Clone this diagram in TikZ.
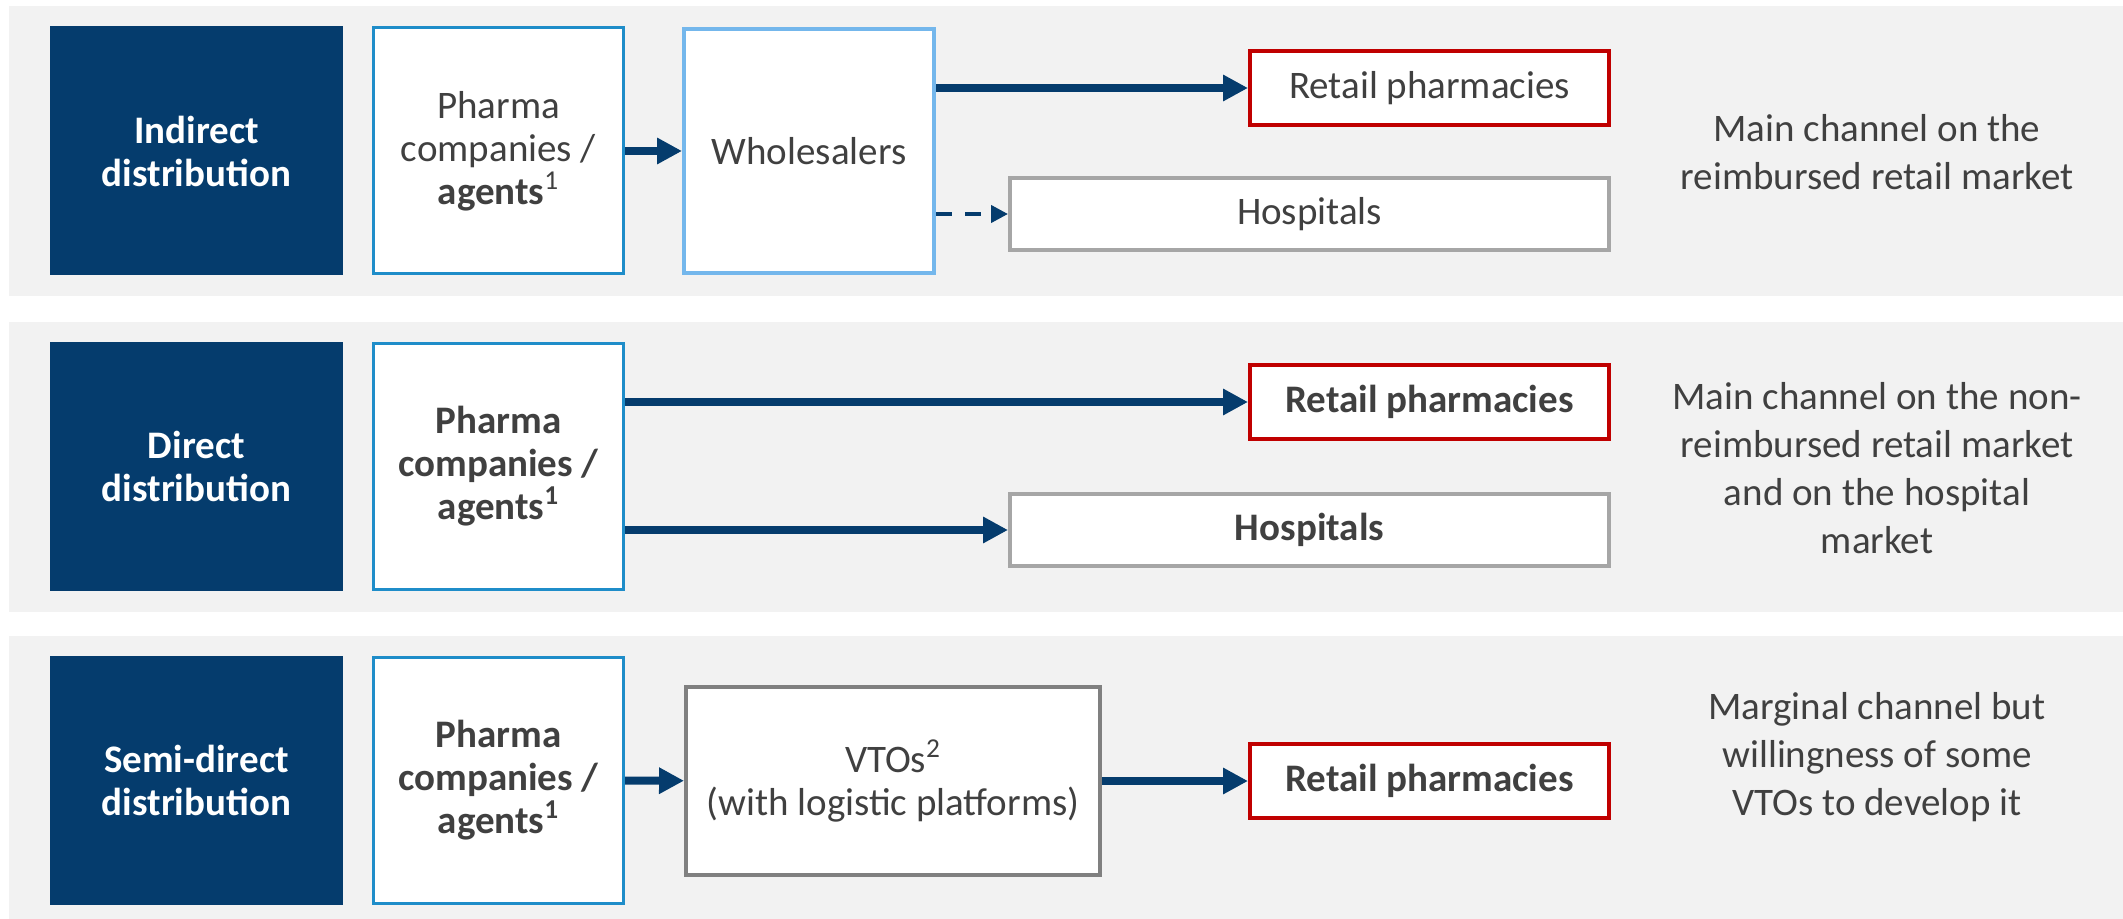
\documentclass[tikz,border=0pt]{standalone}
\usepackage{fontspec}
\setmainfont{Carlito}
\usetikzlibrary{arrows.meta,positioning}
\definecolor{navy}{HTML}{053C6D}
\definecolor{bandgray}{HTML}{F2F2F2}
\definecolor{txtgray}{HTML}{404040}
\definecolor{srcblue}{HTML}{1F8DC9}
\definecolor{whlblue}{HTML}{74B7EC}
\definecolor{retred}{HTML}{C00000}
\definecolor{hosgray}{HTML}{A6A6A6}
\definecolor{vtogray}{HTML}{808080}

\begin{document}
\begin{tikzpicture}[
x=0.5pt, y=-0.5pt,
font=\fontsize{19.5}{21.5}\selectfont,
band/.style={fill=bandgray},
lane/.style={fill=navy, text=white, align=center, inner sep=0pt, font=\fontsize{19.5}{21.5}\selectfont\bfseries, minimum width=146.5pt, minimum height=124.5pt},
box/.style={fill=white, text=txtgray, align=center, inner sep=0pt, line width=2pt},
src/.style={box, draw=srcblue, line width=1.5pt, minimum width=125pt, minimum height=123pt},
whl/.style={box, draw=whlblue, minimum width=125pt, minimum height=122pt},
retail/.style={box, draw=retred, minimum width=179.5pt, minimum height=37pt},
hosp/.style={box, draw=hosgray, minimum width=299.5pt, minimum height=36pt},
vto/.style={box, draw=vtogray, minimum width=207pt, minimum height=94pt},
note/.style={text=txtgray, align=center, font=\fontsize{19.5}{24}\selectfont},
arr/.style={-{Triangle[length=12.5pt, width=12.5pt]}, line width=4pt, draw=navy},
darr/.style={-{Triangle[length=8.5pt, width=8.5pt]}, line width=2pt, draw=navy, dash pattern=on 8pt off 6.5pt}
]
\useasboundingbox (0,0) rectangle (2123,919);
% background bands
\fill[band] (9,6) rectangle (2123,296);
\fill[band] (9,322) rectangle (2123,612);
\fill[band] (9,636) rectangle (2123,919);

% indirect
\node[lane] (lane1) at (196.5,151) {Indirect\\distribution};
\node[src] (ph1) at (498.5,151) {Pharma\\companies /\\\textbf{agents}\textsuperscript{1}};
\node[whl] (whl) at (809,151) {Wholesalers};
\node[retail] (ret1) at (1429.5,88) {Retail pharmacies};
\node[hosp] (hos1) at (1309.5,214) {Hospitals};
\node[note] (note1) at (1877,152) {Main channel on the\\reimbursed retail market};

% direct
\node[lane] (lane2) at (196.5,466.5) {Direct\\distribution};
\node[src, font=\fontsize{19.5}{21.5}\selectfont\bfseries] (ph2) at (498.5,466.5) {Pharma\\companies /\\agents\textsuperscript{1}};
\node[retail, font=\fontsize{19.5}{21.5}\selectfont\bfseries] (ret2) at (1429.5,402) {Retail pharmacies};
\node[hosp, font=\fontsize{19.5}{21.5}\selectfont\bfseries] (hos2) at (1309.5,530) {Hospitals};
\node[note] (note2) at (1877,468) {Main channel on the non-\\reimbursed retail market\\and on the hospital\\market};

% semi-direct
\node[lane] (lane3) at (196.5,780.5) {Semi-direct\\distribution};
\node[src, font=\fontsize{19.5}{21.5}\selectfont\bfseries] (ph3) at (498.5,780.5) {Pharma\\companies /\\agents\textsuperscript{1}};
\node[vto] (vto) at (893,781) {VTOs\textsuperscript{2}\\(with logistic platforms)};
\node[retail, font=\fontsize{19.5}{21.5}\selectfont\bfseries] (ret3) at (1429.5,781) {Retail pharmacies};
\node[note] (note3) at (1877,757) {Marginal channel but\\willingness of some\\VTOs to develop it};

% flows
\draw[arr] (ph1) -- (whl);
\draw[arr] (whl.east |- ret1) -- (ret1.west);
\draw[darr] (whl.east |- hos1) -- (hos1.west);
\draw[arr] (ph2.east |- ret2) -- (ret2.west);
\draw[arr] (ph2.east |- hos2) -- (hos2.west);
\draw[arr] (ph3) -- (vto);
\draw[arr] (vto) -- (ret3);
\end{tikzpicture}
\end{document}
